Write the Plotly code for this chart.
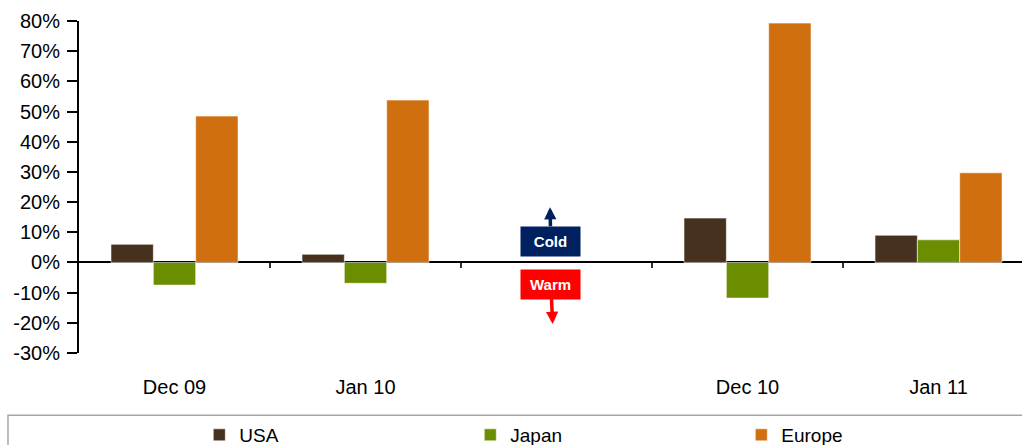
import plotly.graph_objects as go

# Monthly deviation by region (percent); the blank slot separates the two winters
categories = ["Dec 09", "Jan 10", "", "Dec 10", "Jan 11"]
usa = [6.0, 2.7, None, 14.7, 9.0]
japan = [-7.5, -6.9, None, -11.8, 7.5]
europe = [48.5, 53.8, None, 79.3, 29.7]

y_ticks = [80, 70, 60, 50, 40, 30, 20, 10, 0, -10, -20, -30]
y_tick_text = ["80%", "70%", "60%", "50%", "40%", "30%", "20%", "10%",
               "0%", "-10%", "-20%", "-30%"]

series = [
    ("USA", usa, "#46301E"),
    ("Japan", japan, "#6A8E00"),
    ("Europe", europe, "#D06F10"),
]

x_pos = list(range(len(categories)))
FONT = "Liberation Sans, Arial, sans-serif"

fig = go.Figure()
for name, vals, color in series:
    fig.add_trace(go.Bar(
        x=x_pos, y=vals, name=name,
        marker=dict(color=color, line=dict(color="rgba(255,255,255,0.55)", width=1)),
        xaxis="x", yaxis="y",
    ))

# invisible helper trace to hold the zero-line category tick axis
fig.add_trace(go.Scatter(x=[-0.5, 4.5], y=[None, None], xaxis="x2", yaxis="y",
                         showlegend=False, hoverinfo="skip"))

x_range = [-0.5, 4.437]

fig.update_layout(
    width=1022, height=445,
    margin=dict(l=79, r=0, t=21, b=92, autoexpand=False),
    paper_bgcolor="white", plot_bgcolor="white",
    barmode="group", bargap=0.335, bargroupgap=0,
    font=dict(family=FONT, color="#000000"),
    xaxis=dict(
        range=x_range, tickmode="array", tickvals=x_pos, ticktext=categories,
        showline=False, showgrid=False, zeroline=False, ticks="",
        tickfont=dict(size=20, family=FONT, color="#000000"),
        ticklabelstandoff=20,
    ),
    xaxis2=dict(
        range=x_range, overlaying="x", anchor="free", position=30 / 110,
        side="bottom", showline=False, showgrid=False, zeroline=False,
        tickmode="array", tickvals=[i + 0.5 for i in x_pos], showticklabels=False,
        ticks="outside", ticklen=5, tickwidth=1.5, tickcolor="#333333",
    ),
    yaxis=dict(
        range=[-30, 80], tickmode="array", tickvals=y_ticks, ticktext=y_tick_text,
        showgrid=False, showline=True, linecolor="#000000", linewidth=2,
        ticks="outside", ticklen=10, tickwidth=2, tickcolor="#000000",
        zeroline=True, zerolinecolor="#000000", zerolinewidth=2,
        tickfont=dict(size=20, family=FONT, color="#000000"),
        ticklabelstandoff=3,
    ),
    legend=dict(
        orientation="h", xref="container", yref="container",
        x=0.195, xanchor="left", y=0.0225, yanchor="middle",
        font=dict(size=19, family=FONT, color="#000000"),
        entrywidth=226, entrywidthmode="pixels",
        bgcolor="rgba(0,0,0,0)", borderwidth=0,
    ),
    showlegend=True,
)

# legend frame
fig.add_shape(type="rect", xref="paper", yref="paper",
              x0=-0.0753, x1=1.05, y0=-0.1877, y1=-0.4,
              line=dict(color="#A6A6A6", width=1.5), fillcolor="rgba(0,0,0,0)",
              layer="below")

# Cold / Warm markers
fig.add_annotation(
    x=1.966, y=18.3, ax=1.97, ay=7.0, xref="x", yref="y", axref="x", ayref="y",
    text="<b>Cold</b>", font=dict(size=15, family=FONT, color="white"),
    bgcolor="#002060", width=59, height=29, borderpad=0,
    showarrow=True, arrowhead=2, arrowwidth=3.5, arrowsize=0.7, arrowcolor="#002060",
)
fig.add_annotation(
    x=1.98, y=-20.4, ax=1.97, ay=-7.2, xref="x", yref="y", axref="x", ayref="y",
    text="<b>Warm</b>", font=dict(size=15, family=FONT, color="white"),
    bgcolor="#FF0000", width=59, height=29, borderpad=0,
    showarrow=True, arrowhead=2, arrowwidth=3.5, arrowsize=0.7, arrowcolor="#FF0000",
)

fig.write_html("out.html")
